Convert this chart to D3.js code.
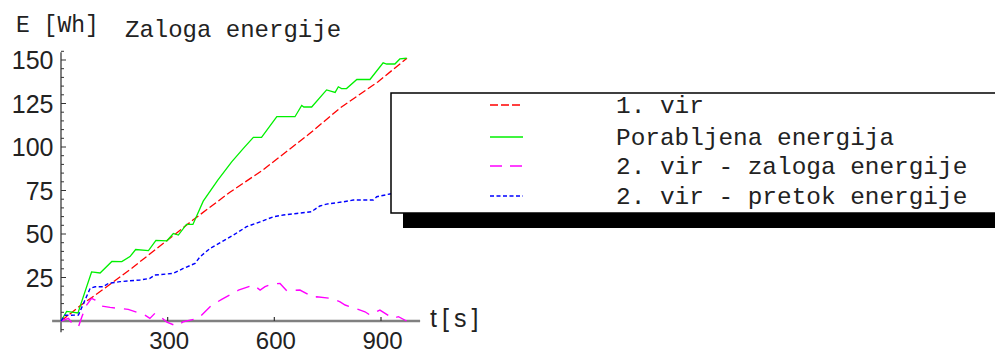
<!DOCTYPE html>
<html><head><meta charset="utf-8">
<script src="https://cdn.jsdelivr.net/npm/d3@7"></script>
<style>html,body{margin:0;padding:0;background:#fff;}svg{display:block;}</style>
</head><body>
<script>
// ---- data ----
const yTicks = [25, 50, 75, 100, 125, 150];
const xTicks = [300, 600, 900];
const legendLabels = ["1. vir", "Porabljena energija", "2. vir - zaloga energije", "2. vir - pretok energije"];

const redT = [0, 53, 124, 200, 264, 340, 371, 475, 568, 695, 785, 891, 973];
const redE = [0, 8.6, 19, 30.5, 40.8, 53, 58, 74, 86.8, 107, 122.4, 137.4, 151];

const greenT = [0,16,48,53,86,110,143,171,194,210,246,267,298,316,330,353,371,400,441,480,513,541,564,607,658,677,683,705,747,771,780,789,803,832,869,906,916,939,953,972];
const greenE = [0,5.5,4.6,8,28.2,27.6,34.2,34.1,37,41.1,40.5,46.3,46.1,50.3,49.4,55.5,55.5,68.9,81,91.5,99.2,105.5,105.5,117.4,117.4,123.9,123,123,132.8,131.4,134.6,133.6,133.6,138.8,138.8,148.4,147.7,147.7,150.6,151];

const magT = [0,21,30,49,58,70,86,96,105,114,138,161,189,214,236,250,264,274,298,325,344,386,424,452,499,541,560,574,593,616,635,672,710,719,761,785,799,855,869,897,934,949,972];
const magE = [0,1.5,-1,-3.3,2,8.6,13,12,10,8.6,7.8,7.3,6.7,5,3.4,1.5,4.4,3.4,-0.7,-2.9,-0.4,1.5,9.1,12.4,17.7,20.7,17.8,19.7,21.3,21.6,17.3,17.8,13.6,13.9,13,11,9.2,5.3,3.4,6.3,1.5,2.5,0];

const blueT = [0,11,49,82,96,119,133,166,222,250,264,316,344,377,391,419,452,485,522,560,597,625,663,705,714,728,747,794,822,878,888,925,975];
const blueE = [0,3.3,3.4,18.8,19.7,19.7,21.6,22.6,23.6,24.5,26.4,27.4,30.2,33.1,36.9,41.7,45.5,49.4,54.2,57,59.9,60.9,61.8,62.8,64.2,66.1,67.2,68.5,69.5,69.5,71.4,73,75];

// ---- chart ----
const W = 995, H = 354;
const svg = d3.select("body").append("svg").attr("width", W).attr("height", H);

const x = d3.scaleLinear().domain([0, 900]).range([61, 381]);
const y = d3.scaleLinear().domain([0, 150]).range([321, 60]);

const axisColor = "#808080";
const mono = "'Liberation Mono', 'Courier New', monospace";
const sans = "'Liberation Sans', Arial, sans-serif";

// axes lines
svg.append("line").attr("x1", x(-25)).attr("x2", x(1010)).attr("y1", y(0)).attr("y2", y(0))
  .attr("stroke", axisColor).attr("stroke-width", 2.5);
svg.append("line").attr("x1", x(0)).attr("x2", x(0)).attr("y1", y(-6.5)).attr("y2", y(154.5))
  .attr("stroke", axisColor).attr("stroke-width", 2);

// y ticks (major + minor)
const minorY = d3.range(-5, 156, 5).filter(v => v % 25 !== 0);
svg.append("g").selectAll("line").data(minorY).join("line")
  .attr("x1", x(0)).attr("x2", x(0) + 3).attr("y1", d => y(d)).attr("y2", d => y(d))
  .attr("stroke", "#333").attr("stroke-width", 1);
svg.append("g").selectAll("line").data(yTicks).join("line")
  .attr("x1", x(0)).attr("x2", x(0) + 5).attr("y1", d => y(d)).attr("y2", d => y(d))
  .attr("stroke", "#333").attr("stroke-width", 1);
svg.append("g").selectAll("text").data(yTicks).join("text")
  .attr("x", 53.5).attr("y", d => y(d) + 9)
  .attr("text-anchor", "end").attr("font-family", sans).attr("font-size", 25)
  .attr("fill", "#222").text(d => d);

// x ticks
svg.append("g").selectAll("line").data(xTicks).join("line")
  .attr("x1", d => x(d)).attr("x2", d => x(d)).attr("y1", y(0)).attr("y2", y(0) - 4)
  .attr("stroke", "#333").attr("stroke-width", 1.2);
svg.append("g").selectAll("text").data(xTicks).join("text")
  .attr("x", d => x(d) + 1.5).attr("y", 349)
  .attr("text-anchor", "middle").attr("font-family", sans).attr("font-size", 24)
  .attr("fill", "#222").text(d => d);

// labels
svg.append("text").attr("x", 430).attr("y", 327).attr("font-family", sans).attr("font-size", 25)
  .attr("letter-spacing", 5).attr("fill", "#222").text("t[s]");
svg.append("text").attr("x", 16).attr("y", 32).attr("font-family", mono).attr("font-size", 23)
  .attr("fill", "#222").text("E [Wh]");
svg.append("text").attr("x", 125).attr("y", 37).attr("font-family", mono).attr("font-size", 24)
  .attr("fill", "#222").text("Zaloga energije");

// series
const line = d3.line().x(d => x(d[0])).y(d => y(d[1]));
const series = [
  {t: redT, e: redE, color: "#ff0000", dash: "8,3", w: 1.3},
  {t: greenT, e: greenE, color: "#00f000", dash: null, w: 1.3},
  {t: magT, e: magE, color: "#ff00ff", dash: "13,9", w: 1.4},
  {t: blueT, e: blueE, color: "#0000ff", dash: "4,2.5", w: 1.4}
];
series.forEach(s => {
  svg.append("path").datum(s.t.map((t, i) => [t, s.e[i]]))
    .attr("d", line).attr("fill", "none").attr("stroke", s.color)
    .attr("stroke-width", s.w).attr("stroke-dasharray", s.dash);
});

// legend
svg.append("rect").attr("x", 403).attr("y", 205).attr("width", 600).attr("height", 23).attr("fill", "#000");
svg.append("rect").attr("x", 391).attr("y", 93).attr("width", 620).attr("height", 120)
  .attr("fill", "#fff").attr("stroke", "#000").attr("stroke-width", 1.5);
const legY = [105, 137, 166, 196];
const legBase = [113, 145, 174, 204];
series.forEach((s, i) => {
  svg.append("line").attr("x1", 490).attr("x2", 523).attr("y1", legY[i]).attr("y2", legY[i])
    .attr("stroke", s.color).attr("stroke-width", s.w)
    .attr("stroke-dasharray", s.dash ? (i === 2 ? "12,8" : s.dash) : null);
  svg.append("text").attr("x", 616).attr("y", legBase[i]).attr("font-family", mono)
    .attr("font-size", 24.4).attr("fill", "#222").text(legendLabels[i]);
});
</script>
</body></html>
